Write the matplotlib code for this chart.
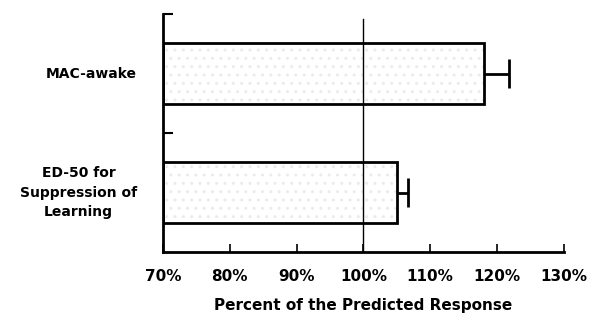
import matplotlib
matplotlib.use("Agg")
from matplotlib import pyplot as plt

plt.rcParams['font.family'] = ['DejaVu Sans']
plt.rcParams['font.weight'] = 'bold'

categories = ['ED-50 for\nSuppression of\nLearning', 'MAC-awake']
values = [105, 118]
errors = [1.7, 3.8]
xticks = [70, 80, 90, 100, 110, 120, 130]
xtick_labels = ['70%', '80%', '90%', '100%', '110%', '120%', '130%']
base = 70

fig = plt.figure(figsize=(5.96, 3.2), dpi=100)
ax = fig.add_axes([0.2735, 0.2125, 0.6725, 0.7435])

pos = [0.5, 1.5]
widths = [v - base for v in values]

# speckled light fill, then black outline
ax.barh(pos, widths, left=base, height=0.52, color='white',
        edgecolor='#ebebeb', hatch='..', linewidth=0, zorder=2)
ax.barh(pos, widths, left=base, height=0.52, color='none',
        edgecolor='black', linewidth=2, zorder=3)
ax.errorbar([v + e / 2 for v, e in zip(values, errors)], pos,
            xerr=[e / 2 for e in errors], fmt='none', ecolor='black',
            elinewidth=2, capsize=0, zorder=4)
ax.errorbar([v + e for v, e in zip(values, errors)], pos, yerr=0.12,
            fmt='none', ecolor='black', elinewidth=2, capsize=0, zorder=4)

ax.axvline(100, color='black', linewidth=1, ymax=0.98, zorder=5)

ax.set_xlim(70, 130)
ax.set_ylim(0, 2)
ax.set_xticks(xticks)
ax.set_xticklabels(xtick_labels, fontsize=11, fontweight='bold')
ax.set_yticks([1, 2])
ax.set_yticklabels([])
ax.tick_params(axis='x', direction='in', length=6, width=1.2, pad=12)
ax.tick_params(axis='y', direction='in', length=7, width=1.5)

for s in ['top', 'right']:
    ax.spines[s].set_visible(False)
for s in ['left', 'bottom']:
    ax.spines[s].set_linewidth(2)

for p, c in zip(pos, categories):
    ax.text(-0.065, p / 2, c, transform=ax.transAxes, ha='right', va='center',
            multialignment='center', fontsize=10, fontweight='bold',
            linespacing=1.5)

ax.set_xlabel('Percent of the Predicted Response', fontsize=11,
              fontweight='bold', labelpad=10)

fig.savefig('out.png', dpi=100)
